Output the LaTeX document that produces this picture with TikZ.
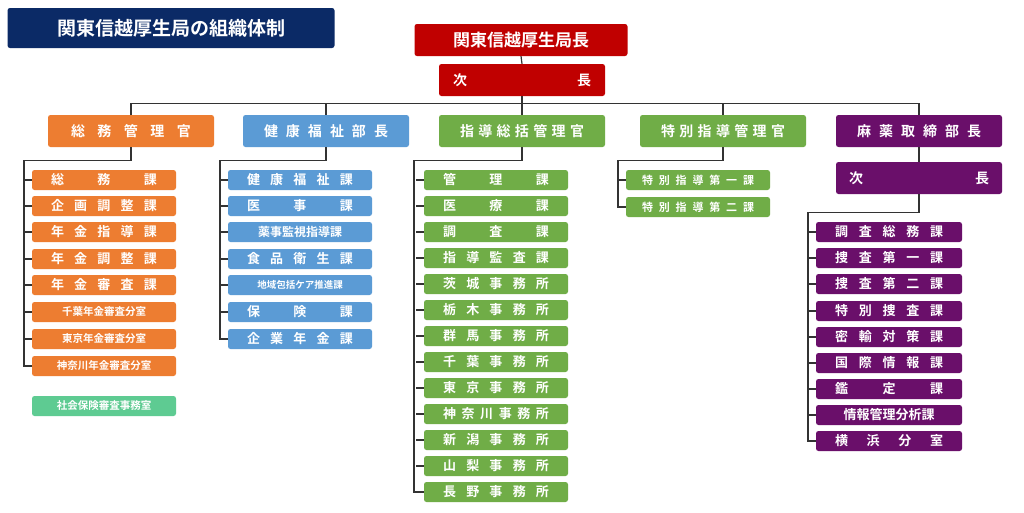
\documentclass[tikz,border=0pt]{standalone}
\usepackage{fontspec}
\setmainfont{Noto Sans CJK JP}[BoldFont={Noto Sans CJK JP Bold}]
\newcommand\sprd[2]{\makebox[#1][s]{#2}}
\definecolor{cnavy}{HTML}{0B2A66}
\definecolor{cred}{HTML}{C00000}
\definecolor{corange}{HTML}{ED7D31}
\definecolor{cblue}{HTML}{5B9BD5}
\definecolor{cgreen}{HTML}{70AD47}
\definecolor{cpurple}{HTML}{6A0F6A}
\definecolor{cteal}{HTML}{5ECB92}
\definecolor{cline}{HTML}{333333}
\begin{document}
\begin{tikzpicture}[x=1pt,y=-1pt,
  box/.style={fill=#1,rounded corners=2.5pt,text=white,font=\bfseries,inner sep=0pt,anchor=center},
  big/.style={box=#1,minimum width=166pt,minimum height=32pt,font=\bfseries\fontsize{14}{14}\selectfont},
  sub/.style={box=#1,minimum width=144pt,minimum height=20pt,font=\bfseries\fontsize{13}{13}\selectfont},
  small/.style={sub=#1,font=\bfseries\fontsize{10.5}{11}\selectfont},
  conn/.style={draw=cline,line width=1.2pt}]
\useasboundingbox (0,0) rectangle (1024,512);
\fill[white] (0,0) rectangle (1024,512);
\node[box=cnavy,minimum width=327pt,minimum height=40pt,font=\bfseries\fontsize{19}{19}\selectfont] (title) at (171,28) {関東信越厚生局の組織体制};
\node[big=cred,minimum width=213pt,font=\bfseries\fontsize{17}{17}\selectfont] (top) at (521,40) {関東信越厚生局長};
\node[big=cred] (vice) at (522,80) {\sprd{138pt}{次\hfill 長}};
\node[big=corange] (L1) at (131,131) {\sprd{120pt}{総\hfill 務\hfill 管\hfill 理\hfill 官}};
\node[big=cblue] (L2) at (326,131) {\sprd{124pt}{健\hfill 康\hfill 福\hfill 祉\hfill 部\hfill 長}};
\node[big=cgreen] (L3) at (522,131) {\sprd{124pt}{指\hfill 導\hfill 総\hfill 括\hfill 管\hfill 理\hfill 官}};
\node[big=cgreen] (L4) at (723,131) {\sprd{124pt}{特\hfill 別\hfill 指\hfill 導\hfill 管\hfill 理\hfill 官}};
\node[big=cpurple] (L5) at (919,131) {\sprd{124pt}{麻\hfill 薬\hfill 取\hfill 締\hfill 部\hfill 長}};
\node[big=cpurple] (V5) at (919,178) {\sprd{140pt}{次\hfill 長}};
\draw[conn] (top.south) -- (vice.north);
\draw[conn] (vice.south) -- (L3.north);
\draw[conn] (L1.north) -- ++(0,-11) -| (L5.north);
\draw[conn] (L2.north) -- ++(0,-11);
\draw[conn] (L4.north) -- ++(0,-11);
\draw[conn] (L5.south) -- (V5.north);
% orange
\foreach \n/\y/\t in {1/180/{\sprd{106pt}{総\hfill 務\hfill 課}},2/206/{\sprd{106pt}{企\hfill 画\hfill 調\hfill 整\hfill 課}},3/232/{\sprd{106pt}{年\hfill 金\hfill 指\hfill 導\hfill 課}},4/259/{\sprd{106pt}{年\hfill 金\hfill 調\hfill 整\hfill 課}},5/285/{\sprd{106pt}{年\hfill 金\hfill 審\hfill 査\hfill 課}}}
  \node[sub=corange] (o\n) at (104,\y) {\t};
\node[small=corange] (o6) at (104,312) {千葉年金審査分室};
\node[small=corange] (o7) at (104,339) {東京年金審査分室};
\node[small=corange] (o8) at (104,366) {神奈川年金審査分室};
\node[small=cteal] (teal) at (104,406) {社会保険審査事務室};
\draw[conn] (L1.south) -- ++(0,13) -| (24,366) -- (o8.west);
\foreach \n in {1,...,7} \draw[conn] (o\n.west) -- ++(-8,0);
% blue
\foreach \n/\y/\t in {1/180/{\sprd{106pt}{健\hfill 康\hfill 福\hfill 祉\hfill 課}},2/206/{\sprd{106pt}{医\hfill 事\hfill 課}},4/259/{\sprd{106pt}{食\hfill 品\hfill 衛\hfill 生\hfill 課}},6/312/{\sprd{106pt}{保\hfill 険\hfill 課}},7/339/{\sprd{106pt}{企\hfill 業\hfill 年\hfill 金\hfill 課}}}
  \node[sub=cblue] (b\n) at (300,\y) {\t};
\node[sub=cblue,font=\bfseries\fontsize{12}{12}\selectfont] (b3) at (300,232) {薬事監視指導課};
\node[small=cblue,font=\bfseries\fontsize{9.5}{10}\selectfont] (b5) at (300,285) {地域包括ケア推進課};
\draw[conn] (L2.south) -- ++(0,13) -| (220,339) -- (b7.west);
\foreach \n in {1,...,6} \draw[conn] (b\n.west) -- ++(-8,0);
% green
\foreach \n/\y/\t in {1/180/{管\hfill 理\hfill 課},2/206/{医\hfill 療\hfill 課},3/232/{調\hfill 査\hfill 課},4/258/{指\hfill 導\hfill 監\hfill 査\hfill 課},5/284/{茨\hfill 城\hfill 事\hfill 務\hfill 所},6/310/{栃\hfill 木\hfill 事\hfill 務\hfill 所},7/336/{群\hfill 馬\hfill 事\hfill 務\hfill 所},8/362/{千\hfill 葉\hfill 事\hfill 務\hfill 所},9/388/{東\hfill 京\hfill 事\hfill 務\hfill 所},10/414/{神\hfill 奈\hfill 川\hfill 事\hfill 務\hfill 所},11/440/{新\hfill 潟\hfill 事\hfill 務\hfill 所},12/466/{山\hfill 梨\hfill 事\hfill 務\hfill 所},13/492/{長\hfill 野\hfill 事\hfill 務\hfill 所}}
  \node[sub=cgreen] (g\n) at (496,\y) {\sprd{106pt}{\t}};
\draw[conn] (L3.south) -- ++(0,13) -| (414,492) -- (g13.west);
\foreach \n in {1,...,12} \draw[conn] (g\n.west) -- ++(-8,0);
% special
\node[small=cgreen,font=\bfseries\fontsize{11}{11}\selectfont] (s1) at (698,180) {\sprd{112pt}{特\hfill 別\hfill 指\hfill 導\hfill 第\hfill 一\hfill 課}};
\node[small=cgreen,font=\bfseries\fontsize{11}{11}\selectfont] (s2) at (698,207) {\sprd{112pt}{特\hfill 別\hfill 指\hfill 導\hfill 第\hfill 二\hfill 課}};
\draw[conn] (L4.south) -- ++(0,13) -| (618,207) -- (s2.west);
\draw[conn] (s1.west) -- ++(-8,0);
% purple
\foreach \n/\y/\t in {1/232/{調\hfill 査\hfill 総\hfill 務\hfill 課},2/258/{捜\hfill 査\hfill 第\hfill 一\hfill 課},3/284/{捜\hfill 査\hfill 第\hfill 二\hfill 課},4/311/{特\hfill 別\hfill 捜\hfill 査\hfill 課},5/337/{密\hfill 輸\hfill 対\hfill 策\hfill 課},6/363/{国\hfill 際\hfill 情\hfill 報\hfill 課},7/389/{鑑\hfill 定\hfill 課},9/441/{横\hfill 浜\hfill 分\hfill 室}}
  \node[sub=cpurple,minimum width=146pt] (p\n) at (889,\y) {\sprd{108pt}{\t}};
\node[sub=cpurple,minimum width=146pt] (p8) at (889,415) {情報管理分析課};
\draw[conn] (V5.south) -- ++(0,18) -| (808,441) -- (p9.west);
\foreach \n in {1,...,8} \draw[conn] (p\n.west) -- ++(-8,0);
\end{tikzpicture}
\end{document}
